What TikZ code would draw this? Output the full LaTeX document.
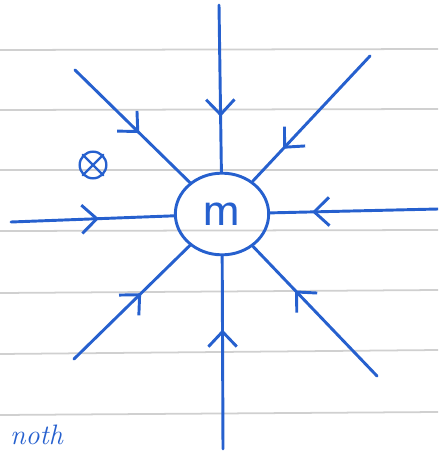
\documentclass[tikz,border=0pt]{standalone}
\usepackage{tikz}
\usetikzlibrary{shapes,arrows.meta,positioning,decorations.markings}

\definecolor{inkblue}{RGB}{38,96,206}
\definecolor{ruleline}{RGB}{208,208,208}

\begin{document}
\begin{tikzpicture}[
    x=0.03cm, y=-0.03cm,
    ink/.style={draw=inkblue, line width=2.5pt, line cap=round},
    ruling/.style={draw=ruleline, line width=1.5pt},
    mass/.style={ellipse, ink, minimum width=2.8cm, minimum height=2.45cm, text=inkblue, font=\sffamily\fontsize{44}{44}\selectfont},
    fieldline/.style={ink, postaction={decorate}, decoration={markings, mark=at position #1 with {\arrow[inkblue, line width=2.5pt]{Straight Barb[length=4.5mm, width=8.5mm]}}}}
]
    \useasboundingbox (0,0) rectangle (438,454);
    \clip (0,0) rectangle (438,454);

    % ruled paper
    \draw[ruling] (0,50) -- (438,49);
    \draw[ruling] (0,110) -- (438,109);
    \draw[ruling] (0,170) -- (438,170);
    \draw[ruling] (0,231) -- (438,230);
    \draw[ruling] (0,293) -- (438,290);
    \draw[ruling] (0,354) -- (438,350);
    \draw[ruling] (0,415) -- (438,412);

    \node[mass] (m) at (222,214) {m};
    \node[circle, ink, line width=2pt, minimum size=0.8cm, inner sep=0pt] (into) at (93,165) {};
    \draw[ink, line width=2pt] (into.45) -- (into.225) (into.135) -- (into.-45);

    \coordinate (pN) at (219,5);
    \coordinate (pNE) at (370,56);
    \coordinate (pE) at (438,209);
    \coordinate (pSE) at (377,376);
    \coordinate (pS) at (223,449);
    \coordinate (pSW) at (74,359);
    \coordinate (pW) at (11,222);
    \coordinate (pNW) at (75,70);

    \draw[fieldline=0.67] (pN) -- (m);
    \draw[fieldline=0.74] (pNE) -- (m);
    \draw[fieldline=0.75] (pE) -- (m);
    \draw[fieldline=0.66] (pSE) -- (m);
    \draw[fieldline=0.62] (pS) -- (m);
    \draw[fieldline=0.58] (pSW) -- (m);
    \draw[fieldline=0.54] (pW) -- (m);
    \draw[fieldline=0.56] (pNW) -- (m);

    \node[text=inkblue, font=\fontsize{24}{24}\selectfont\itshape, anchor=base west] (note) at (6,444) {noth};
\end{tikzpicture}
\end{document}
